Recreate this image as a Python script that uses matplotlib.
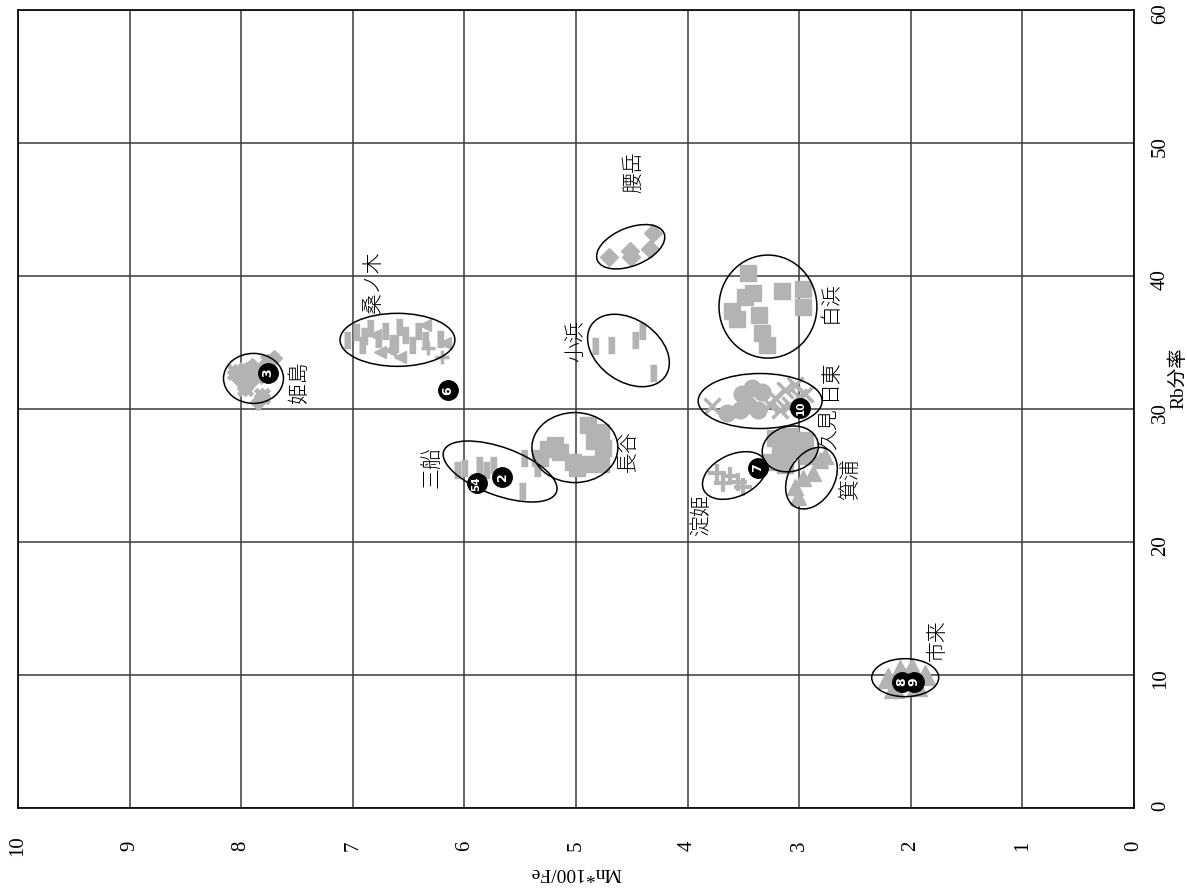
import matplotlib
matplotlib.use('Agg')
import matplotlib.pyplot as plt
from matplotlib.patches import Ellipse
from matplotlib.transforms import Affine2D

# ---------------- data (x = Mn*100/Fe, y = Rb分率) ----------------
hime_mn = [8.06, 8.01, 7.96, 7.92, 7.87, 7.81, 7.76, 7.71, 7.97, 7.85, 7.81, 7.90]
hime_rb = [32.8, 32.2, 32.9, 32.0, 32.5, 33.1, 33.5, 33.8, 31.6, 30.5, 31.0, 33.2]

kuwa_bar_mn = [7.05, 6.97, 6.92, 6.85, 6.77, 6.71, 6.65, 6.59, 6.53, 6.47, 6.42, 6.35, 6.22, 6.90, 6.62]
kuwa_bar_rb = [35.2, 35.8, 34.8, 36.1, 35.3, 35.9, 35.0, 36.2, 35.6, 34.8, 35.9, 35.2, 35.3, 35.5, 34.9]
kuwa_tri_mn = [6.76, 6.67, 6.35, 6.17, 6.58, 6.80]
kuwa_tri_rb = [34.3, 34.4, 36.3, 35.0, 33.9, 35.6]
kuwa_plus_mn = [6.33, 6.20]
kuwa_plus_rb = [34.6, 33.9]

mifune_mn = [6.07, 6.00, 5.87, 5.81, 5.74, 5.47, 5.35, 5.48]
mifune_rb = [25.4, 25.6, 25.8, 25.4, 25.8, 26.3, 25.6, 23.8]

nagatani_mn = [4.89, 4.78, 4.76, 4.78, 4.91, 5.03, 5.14, 5.25, 5.32, 5.19, 4.84, 4.99]
nagatani_rb = [28.8, 28.3, 27.1, 25.9, 25.9, 26.0, 26.8, 27.0, 26.3, 27.3, 27.6, 25.6]

obama_mn = [4.83, 4.69, 4.47, 4.41, 4.31]
obama_rb = [34.7, 34.8, 35.2, 35.9, 32.7]

koshi_mn = [4.70, 4.52, 4.51, 4.34, 4.31]
koshi_rb = [41.4, 41.9, 41.4, 42.0, 43.2]

shira_mn = [3.46, 3.41, 3.49, 3.60, 3.56, 3.36, 3.33, 3.29, 3.15, 2.97, 2.97]
shira_rb = [40.2, 38.7, 38.4, 37.4, 36.8, 37.1, 35.7, 34.8, 38.9, 39.0, 37.7]

nitto_x_mn = [3.78, 3.22, 3.13, 3.04, 2.95, 3.08, 3.17, 3.26, 3.00]
nitto_x_rb = [30.2, 30.8, 31.4, 31.8, 31.1, 30.3, 29.9, 30.3, 30.9]
nitto_o_mn = [3.65, 3.51, 3.42, 3.33, 3.46, 3.37, 3.53]
nitto_o_rb = [29.7, 31.1, 31.6, 31.3, 30.3, 29.9, 29.9]

kumi_mn = [3.22, 3.08, 2.95, 3.17, 3.04, 2.92, 3.13, 3.26]
kumi_rb = [27.8, 28.0, 27.7, 26.8, 26.9, 26.5, 25.8, 26.0]

minou_mn = [3.04, 2.97, 2.88, 2.81, 2.77, 3.01]
minou_rb = [24.1, 24.8, 25.2, 26.2, 26.5, 23.4]

yodo_mn = [3.74, 3.68, 3.62, 3.55, 3.50]
yodo_rb = [25.2, 24.4, 25.0, 24.5, 24.1]

ichiki_mn = [2.20, 2.10, 1.99, 1.87, 1.94, 2.15, 2.05]
ichiki_rb = [9.8, 10.4, 10.5, 10.0, 9.2, 9.0, 9.8]

num_labels = ['3', '6', '54', '2', '7', '10', '8', '9']
num_mn = [7.76, 6.15, 5.89, 5.66, 3.37, 2.99, 2.08, 1.97]
num_rb = [32.7, 31.4, 24.4, 24.9, 25.6, 30.1, 9.5, 9.5]

grp_names = ['姫島', '桑ノ木', '三船', '長谷', '小浜', '腰岳', '白浜', '日東', '久見', '箕浦', '淀姫', '市来']
grp_lab_mn = [7.48, 6.82, 6.29, 4.54, 5.01, 4.49, 2.73, 2.73, 2.73, 2.54, 3.88, 1.77]
grp_lab_rb = [32.0, 39.5, 25.6, 26.8, 35.1, 47.8, 38.0, 32.2, 28.5, 24.7, 22.0, 12.6]

ell_mn = [7.89, 6.60, 5.68, 5.01, 4.53, 4.51, 3.28, 3.35, 3.08, 2.89, 3.58, 2.05]
ell_rb = [32.3, 35.2, 25.3, 27.1, 34.4, 42.2, 37.7, 30.6, 27.0, 24.8, 25.0, 9.8]

x_ticks = list(range(0, 11))
y_ticks = [0, 10, 20, 30, 40, 50, 60]

# ---------------- drawing ----------------
GRAY = '#b3b3b5'
SX, SY = 111.7, 13.3   # pixels per data unit

fig = plt.figure(figsize=(11.87, 8.90), dpi=100)
ax = fig.add_axes([18 / 1187, 82 / 890, 1116 / 1187, 798 / 890])
ax.set_xlim(10, 0)
ax.set_ylim(0, 60)
ax.set_xticks(x_ticks)
ax.set_yticks(y_ticks)
ax.grid(True, color='#3a3a3a', lw=1.1)
ax.set_axisbelow(True)
for s in ax.spines.values():
    s.set_color('black')
    s.set_linewidth(1.2)
ax.yaxis.tick_right()
ax.tick_params(length=0)
ax.tick_params(axis='x', pad=27)
ax.tick_params(axis='y', pad=19)
ax.set_xticklabels([str(v) for v in x_ticks], rotation=90, family='Liberation Serif', fontsize=15)
ax.set_yticklabels([str(v) for v in y_ticks], rotation=90, family='Liberation Serif', fontsize=15)
for lab in ax.get_xticklabels():
    lab.set_va('center')
for lab in ax.get_yticklabels():
    lab.set_ha('center')

bar = [(-0.2, -0.5), (0.2, -0.5), (0.2, 0.5), (-0.2, 0.5)]
kw = dict(linestyle='none', color=GRAY, zorder=3)
ax.plot(hime_mn, hime_rb, marker='D', ms=8, mec=GRAY, **kw)
ax.plot(hime_mn[::2], hime_rb[::2], marker='x', ms=10, mew=3.5, **kw)
ax.plot(kuwa_bar_mn, kuwa_bar_rb, marker=bar, ms=11, mec=GRAY, **kw)
ax.plot(kuwa_tri_mn, kuwa_tri_rb, marker='<', ms=9, mec=GRAY, **kw)
ax.plot(kuwa_plus_mn, kuwa_plus_rb, marker='+', ms=10, mew=2.5, **kw)
ax.plot(mifune_mn, mifune_rb, marker=bar, ms=11, mec=GRAY, **kw)
ax.plot(nagatani_mn, nagatani_rb, marker='s', ms=12, mec=GRAY, **kw)
ax.plot(obama_mn, obama_rb, marker=bar, ms=12, mec=GRAY, **kw)
ax.plot(koshi_mn, koshi_rb, marker='D', ms=9, mec=GRAY, **kw)
ax.plot(shira_mn, shira_rb, marker='s', ms=12, mec=GRAY, **kw)
ax.plot(nitto_x_mn, nitto_x_rb, marker='x', ms=12, mew=2.5, **kw)
ax.plot(nitto_o_mn, nitto_o_rb, marker='o', ms=12, mec=GRAY, **kw)
ax.plot(kumi_mn, kumi_rb, marker='s', ms=11, mec=GRAY, **kw)
ax.plot(minou_mn, minou_rb, marker='^', ms=11, mec=GRAY, **kw)
ax.plot(yodo_mn, yodo_rb, marker='+', ms=13, mew=3, **kw)
ax.plot(ichiki_mn, ichiki_rb, marker='^', ms=14, mec=GRAY, **kw)

# ellipses drawn in pixel-like scaled space (x axis inverted -> angle sign flipped)
ell_w = [60, 115, 120, 86, 90, 72, 98, 124, 57, 66, 68, 67]
ell_h = [50, 53, 48, 70, 62, 38, 103, 55, 45, 46, 42, 38]
ell_ang = [0, 0, -20, 0, -35, 22, 0, 0, 15, 60, 25, 0]
etrans = Affine2D().scale(1 / SX, 1 / SY) + ax.transData
for cx, cy, w, h, a in zip(ell_mn, ell_rb, ell_w, ell_h, ell_ang):
    ax.add_patch(Ellipse((cx * SX, cy * SY), w, h, angle=-a, transform=etrans,
                         fill=False, ec='black', lw=1.1, zorder=4))

# numbered black circle markers
ax.plot(num_mn, num_rb, 'o', color='black', ms=14, zorder=5)
for t, x, y in zip(num_labels, num_mn, num_rb):
    ax.text(x, y, t, color='white', fontsize=9 if len(t) == 1 else 7.5, fontweight='bold',
            rotation=90, ha='center', va='center', zorder=6, family='DejaVu Sans')

# group labels
for t, x, y in zip(grp_names, grp_lab_mn, grp_lab_rb):
    ax.text(x, y, t, rotation=90, ha='center', va='center', fontsize=15,
            family=['Noto Sans CJK JP', 'DejaVu Sans'], fontweight='light', zorder=6)

# axis titles (rotated figure)
fig.text(576 / 1187, 1 - 872 / 890, 'Mn*100/Fe', rotation=180, ha='center', va='center',
         family='Liberation Serif', fontsize=14)
fig.text(1178 / 1187, 1 - 378 / 890, 'Rb分率', rotation=90, ha='center', va='center',
         family=['Liberation Serif', 'Noto Sans CJK JP'], fontsize=14)

fig.savefig('out.png', dpi=100)
